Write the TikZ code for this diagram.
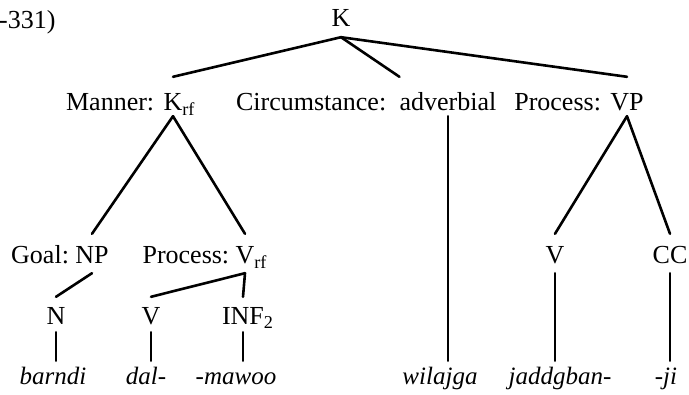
\documentclass[tikz,border=0pt]{standalone}
\usepackage{fontspec}
\setmainfont{Liberation Serif}
\usetikzlibrary{positioning}
\tikzset{
  lbl/.style={inner sep=0pt, anchor=base, font=\fontsize{26}{31}\selectfont},
  fnlbl/.style={inner sep=0pt, font=\fontsize{26}{31}\selectfont},
  word/.style={lbl, font=\fontsize{25}{30}\selectfont\itshape, text height=24pt, text depth=6pt},
  rowK/.style={text height=18pt, text depth=10pt},
  rowA/.style={text height=34pt, text depth=5pt},
  rowB/.style={text height=30pt, text depth=9pt},
  rowC/.style={text height=28pt, text depth=7pt},
  branch/.style={line width=2.6pt, line cap=round},
}
\begin{document}
\begin{tikzpicture}[x=1pt, y=-1pt]
  \useasboundingbox (0,0) rectangle (689,395);

  \node[fnlbl, anchor=base west] (ref) at (-1,29) {-331)};
  \node[lbl, rowK] (k) at (341,27) {K};

  % functions on the first level
  \node[lbl, rowA] (krf) at (173,111) {K\rlap{\textsubscript{rf}}};
  \node[fnlbl, base left=9pt of krf] (manner) {Manner:};
  \node[lbl, rowA] (adv) at (448,111) {adverbial};
  \node[fnlbl, base left=13pt of adv] (circ) {Circumstance:};
  \node[lbl, rowA] (vp) at (627,111) {VP};
  \node[fnlbl, base left=9pt of vp] (procA) {Process:};

  % second level
  \node[lbl, rowB] (np) at (92,264) {NP};
  \node[fnlbl, base left=6pt of np] (goal) {Goal:};
  \node[lbl, rowB] (vrf) at (245,264) {V\rlap{\textsubscript{rf}}};
  \node[fnlbl, base left=6pt of vrf] (procB) {Process:};
  \node[lbl, rowB] (vb) at (555,264) {V};
  \node[lbl, rowB] (cc) at (670,264) {CC};

  % third level
  \node[lbl, rowC] (n) at (56,325) {N};
  \node[lbl, rowC] (va) at (151,325) {V};
  \node[lbl, rowC] (inf) at (243,325) {INF\rlap{\textsubscript{2}}};

  % words
  \node[word] (barndi) at (53,385) {barndi};
  \node[word] (dal) at (146,385) {dal-};
  \node[word] (mawoo) at (236,385) {-mawoo};
  \node[word] (wilajga) at (440,385) {wilajga};
  \node[word] (jaddgban) at (560,385) {jaddgban-};
  \node[word] (ji) at (666,385) {-ji};

  \draw[branch] (k.south) -- (krf.north);
  \draw[branch] (k.south) -- (adv.north west);
  \draw[branch] (k.south) -- (vp.north);

  \draw[branch] (krf.south) -- (np.north);
  \draw[branch] (krf.south) -- (vrf.north);
  \draw[branch] (vp.south) -- (vb.north);
  \draw[branch] (vp.south) -- (cc.north);

  \draw[branch] (np.south) -- (n.north);
  \draw[branch] (vrf.south) -- (va.north);
  \draw[branch] (vrf.south) -- (inf.north);

  \draw[branch] (n.south) -- (n.south |- barndi.north);
  \draw[branch] (va.south) -- (va.south |- dal.north);
  \draw[branch] (inf.south) -- (inf.south |- mawoo.north);
  \draw[branch] (adv.south) -- (adv.south |- wilajga.north);
  \draw[branch] (vb.south) -- (vb.south |- jaddgban.north);
  \draw[branch] (cc.south) -- (cc.south |- ji.north);

\end{tikzpicture}
\end{document}
